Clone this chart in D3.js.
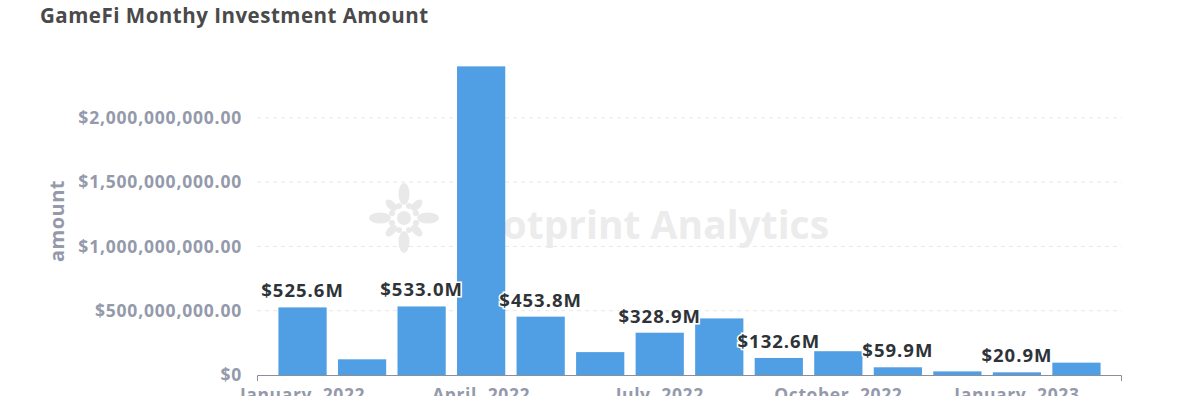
<!DOCTYPE html>
<html>
<head>
<meta charset="utf-8">
<script src="https://cdn.jsdelivr.net/npm/d3@7"></script>
<style>
  body { margin: 0; background: #fff; font-family: "Open Sans", sans-serif; }
  svg { display: block; }
</style>
</head>
<body>
<div id="chart"></div>
<script>
// data (USD)
var months = ["2022-01", "2022-02", "2022-03", "2022-04", "2022-05", "2022-06", "2022-07",
              "2022-08", "2022-09", "2022-10", "2022-11", "2022-12", "2023-01", "2023-02"];
var amounts = [525.6e6, 122e6, 533.0e6, 2400e6, 453.8e6, 178e6, 328.9e6,
               440e6, 132.6e6, 185e6, 59.9e6, 28e6, 20.9e6, 96e6];
var tickMonths = ["2022-01", "2022-04", "2022-07", "2022-10", "2023-01"];
var yTicks = [0, 500e6, 1000e6, 1500e6, 2000e6];

var W = 1199, H = 396;
var margin = {top: 60, right: 77, bottom: 21, left: 257};
var width = W - margin.left - margin.right,
    height = H - margin.top - margin.bottom;

var svg = d3.select("#chart").append("svg")
    .attr("width", W)
    .attr("height", H);

// title
svg.append("text")
    .attr("x", 40)
    .attr("y", 23)
    .attr("font-size", 20.5)
    .attr("font-weight", 700)
    .attr("letter-spacing", 0.5)
    .attr("fill", "#4a4a4a")
    .text("GameFi Monthy Investment Amount");

var g = svg.append("g")
    .attr("transform", "translate(" + margin.left + "," + margin.top + ")");

var x = d3.scaleBand().domain(months).range([0, width])
    .paddingInner(0.19).paddingOuter(0.36);
var y = d3.scaleLinear().domain([0, 2500e6]).range([height, height - 64.3 * 5]);

// watermark
var wm = g.append("g").attr("transform", "translate(" + (404 - margin.left) + "," + (218 - margin.top) + ")")
    .attr("fill", "#e9e9e9");
d3.range(8).forEach(function(i) {
  var a = i * 45;
  var big = (i % 2 === 0);
  wm.append("ellipse")
      .attr("transform", "rotate(" + a + ") translate(" + (big ? 24 : 18) + ",0)")
      .attr("rx", big ? 11 : 7).attr("ry", big ? 5.5 : 4);
  wm.append("circle")
      .attr("transform", "rotate(" + (a + 22.5) + ") translate(13,0)")
      .attr("r", 3);
});
wm.append("circle").attr("r", 7);
g.append("text")
    .attr("x", 457 - margin.left)
    .attr("y", 239 - margin.top)
    .attr("font-size", 39)
    .attr("font-weight", 700)
    .attr("fill", "#ececec")
    .text("Footprint Analytics");

// gridlines
g.selectAll(".grid").data(yTicks.slice(1)).enter().append("line")
    .attr("x1", 0).attr("x2", width)
    .attr("y1", function(d) { return y(d); })
    .attr("y2", function(d) { return y(d); })
    .attr("stroke", "#e6e8eb")
    .attr("stroke-dasharray", "4,4");

// y tick labels
g.selectAll(".ylab").data(yTicks).enter().append("text")
    .attr("x", -15)
    .attr("y", function(d) { return y(d); })
    .attr("dy", "0.35em")
    .attr("text-anchor", "end")
    .attr("font-size", 17.5)
    .attr("font-weight", 700)
    .attr("letter-spacing", 0.8)
    .attr("fill", "#949aab")
    .text(function(d) { return d === 0 ? "$0" : d3.format("$,.2f")(d); });

svg.append("text")
    .attr("transform", "translate(64,221) rotate(-90)")
    .attr("text-anchor", "middle")
    .attr("font-size", 20)
    .attr("font-weight", 700)
    .attr("letter-spacing", 0.5)
    .attr("fill", "#949aab")
    .text("amount");

// bars
g.selectAll(".bar").data(months).enter().append("rect")
    .attr("x", function(d) { return x(d); })
    .attr("width", x.bandwidth())
    .attr("y", function(d, i) { return y(amounts[i]); })
    .attr("height", function(d, i) { return height - y(amounts[i]); })
    .attr("fill", "#509ee3");

// x axis
var xAxis = g.append("g").attr("transform", "translate(0," + height + ")");
xAxis.append("path")
    .attr("d", "M0.5,6V0.5H" + (width - 0.5) + "V6")
    .attr("fill", "none")
    .attr("stroke", "#8a8f99");
var fmtMonth = d3.timeFormat("%B, %Y"), parseMonth = d3.timeParse("%Y-%m");
xAxis.selectAll(".xlab").data(tickMonths).enter().append("text")
    .attr("x", function(d) { return x(d) + x.bandwidth() / 2; })
    .attr("y", 26)
    .attr("text-anchor", "middle")
    .attr("font-size", 17.5)
    .attr("font-weight", 700)
    .attr("letter-spacing", 0.6)
    .attr("fill", "#949aab")
    .text(function(d) { return fmtMonth(parseMonth(d)); });

// value labels on every other bar
var fmtM = function(v) { return "$" + (v / 1e6).toFixed(1) + "M"; };
g.selectAll(".vlab").data(months.filter(function(d, i) { return i % 2 === 0; })).enter()
  .append("text")
    .attr("x", function(d) { return x(d) + x.bandwidth() / 2; })
    .attr("y", function(d) { return y(amounts[months.indexOf(d)]) - 10; })
    .attr("text-anchor", "middle")
    .attr("font-size", 18.5)
    .attr("font-weight", 700)
    .attr("letter-spacing", 1)
    .attr("fill", "#2e3338")
    .attr("stroke", "#fff")
    .attr("stroke-width", 3)
    .attr("paint-order", "stroke")
    .text(function(d) { return fmtM(amounts[months.indexOf(d)]); });
</script>
</body>
</html>
